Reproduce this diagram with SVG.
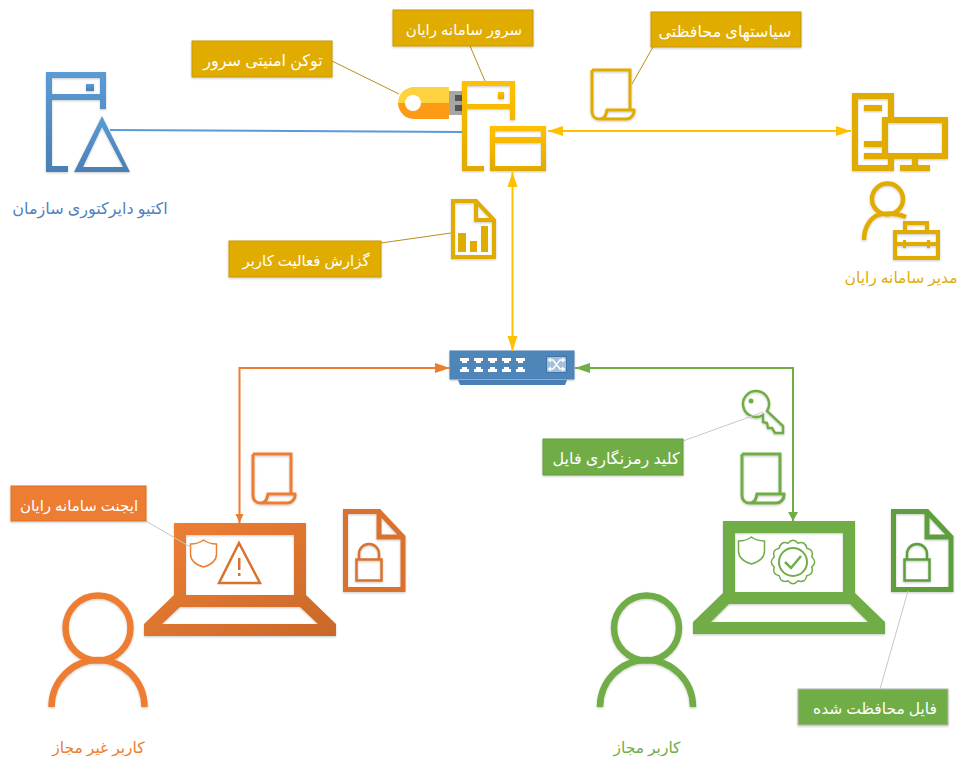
<svg xmlns="http://www.w3.org/2000/svg" width="958" height="762" viewBox="0 0 958 762">
<style>
.t{font-family:"Noto Sans","DejaVu Sans",sans-serif;direction:rtl;text-anchor:middle}
.lab{font-size:15px;fill:#fff}
.big{font-size:16px}
.cap{font-size:15.500px}
.box{stroke-width:1}
.gold{fill:#e0ac00;stroke:#c99a00}
.lead{fill:none;stroke-width:1}
.conn{fill:none;stroke-width:2}
</style>
<defs>
<filter id="s" x="-10%" y="-10%" width="120%" height="125%"><feDropShadow dx="0" dy="1" stdDeviation="1" flood-color="#000" flood-opacity="0.22"/></filter>
<linearGradient id="gb" x1="0" y1="0" x2="0" y2="1"><stop offset="0" stop-color="#5b9bd5"/><stop offset="1" stop-color="#4a7fb5"/></linearGradient>
<linearGradient id="go" x1="0" y1="0" x2="1" y2="1"><stop offset="0" stop-color="#f08033"/><stop offset="1" stop-color="#c9682a"/></linearGradient>
<linearGradient id="gy" x1="0" y1="0" x2="0" y2="1"><stop offset="0" stop-color="#ffc000"/><stop offset="1" stop-color="#dfab00"/></linearGradient>
<marker id="ay" markerUnits="userSpaceOnUse" markerWidth="16" markerHeight="12" refX="15" refY="6" orient="auto-start-reverse"><path d="M0 1L15 6L0 11Z" fill="#ffc000"/></marker>
<marker id="ao" markerUnits="userSpaceOnUse" markerWidth="16" markerHeight="12" refX="15" refY="6" orient="auto-start-reverse"><path d="M0 1L15 6L0 11Z" fill="#ed7d31"/></marker>
<marker id="ag" markerUnits="userSpaceOnUse" markerWidth="16" markerHeight="12" refX="15" refY="6" orient="auto-start-reverse"><path d="M0 1L15 6L0 11Z" fill="#70ad47"/></marker>
<marker id="ao2" markerUnits="userSpaceOnUse" markerWidth="10" markerHeight="10" refX="9" refY="5" orient="auto"><path d="M0 1L9 5L0 9Z" fill="#ed7d31"/></marker>
<marker id="ag2" markerUnits="userSpaceOnUse" markerWidth="10" markerHeight="12" refX="9" refY="6" orient="auto"><path d="M0 1L9 6L0 11Z" fill="#70ad47"/></marker>
<g id="doc"><path d="M2 2H40V42M2 2V44A7 7 0 0 0 9 51H36A8 8 0 0 0 44 42H17L16 46A7 7 0 0 1 9 51" fill="none" stroke-width="3"/></g>
<g id="lockfile"><path d="M2.500 2.500H36L60 28V80.500H2.500Z M36 2.500V28H60" fill="none" stroke-width="5"/><rect x="13.500" y="50.500" width="25" height="21" fill="none" stroke-width="2.500"/><path d="M16 50V45A10 10 0 0 1 36 45V50" fill="none" stroke-width="2.500"/></g>
<g id="shield"><path d="M13 1C17 4 22 5 26 5V15C26 22 20 26 13 28C6 26 0 22 0 15V5C4 5 9 4 13 1Z" fill="none" stroke-width="1.500"/></g>
</defs>

<g id="active-directory">
<g filter="url(#s)" fill="url(#gb)">
<path fill-rule="evenodd" d="M46 72H106V109H100V100H52V166H68V172H46Z M52 78V94H100V78Z"/>
<rect x="86" y="84" width="8" height="7"/>
<path fill-rule="evenodd" d="M102 116L130 172H74Z M102 127L83 167H123Z"/>
</g>
<text class="t big" x="90" y="214" fill="#4f81bd">اکتیو دایرکتوری سازمان</text>
</g>

<g id="usb-token">
<rect x="449" y="91" width="14" height="24" fill="#a6a6a6"/>
<rect x="455" y="95" width="7" height="6" fill="#555"/><rect x="455" y="105" width="7" height="6" fill="#555"/>
<path d="M449 87H415A16 16 0 0 0 398 103H449Z" fill="#ffd23f"/>
<path d="M449 103H398A16 16 0 0 0 415 119H449Z" fill="#ff9a17"/>
<circle cx="413" cy="103" r="8" fill="#fff"/>
</g>

<g id="server">
<g filter="url(#s)" fill="url(#gy)">
<path fill-rule="evenodd" d="M462 81H515V120H510V109H467V166H484V171H462Z M467 86V104H510V86Z"/>
<rect x="498" y="92" width="6" height="7"/>
<path fill-rule="evenodd" d="M490 126H546V171H490Z M495 131V137H541V131Z M495 143V166H541V143Z"/>
</g>
</g>

<g id="policy-doc"><use href="#doc" x="590" y="68" stroke="#e0ac00" filter="url(#s)"/></g>

<g id="admin">
<g filter="url(#s)">
<path fill-rule="evenodd" fill="#e0ac00" d="M852 93H894V117H888V99H858V165H888V159H894V171H852Z"/>
<rect x="864" y="105" width="18" height="6" fill="#e0ac00"/>
<rect x="864" y="141" width="18" height="6" fill="#e0ac00"/>
<path fill-rule="evenodd" fill="#e0ac00" d="M882 117H948V159H864V153H882Z M888 123V153H942V123Z"/>
<rect x="912" y="159" width="6" height="7" fill="#e0ac00"/>
<rect x="900" y="165" width="30" height="6" fill="#e0ac00"/>
<circle cx="887.500" cy="199" r="15.500" fill="none" stroke="#e0ac00" stroke-width="4.500"/>
<path d="M864 240C864 226 872 215 882 214C891 213 899 214 906 217" fill="none" stroke="#e0ac00" stroke-width="4.500"/>
<g fill="none" stroke="#e0ac00" stroke-width="4"><rect x="895" y="232" width="43" height="26"/><path d="M905 232V223H927V232M895 244H938"/></g>
<path d="M903 240h3v8h-3zM927 240h3v8h-3z" fill="#e0ac00"/>
</g>
<text class="t cap" x="901" y="283" fill="#e0ac00">مدیر سامانه رایان</text>
</g>

<g id="report">
<g filter="url(#s)" fill="none" stroke="#e0ac00" stroke-width="4"><path d="M453 201H476L494 220V257H453Z M476 201V220H494"/></g>
<path d="M458 233h8v19h-8zM470 241h7v11h-7zM481 226h7v26h-7z" fill="#e0ac00"/>
</g>

<g id="switch">
<rect x="450" y="351" width="124" height="28" fill="#4f86b9" stroke="#4a7fb5" filter="url(#s)"/>
<path d="M458 380H567L565 385H460Z" fill="#4a7fb5"/>
<g fill="#fff"><path d="M460 358h9v3h-2v2h-5v-2h-2zM474 358h9v3h-2v2h-5v-2h-2zM488 358h9v3h-2v2h-5v-2h-2zM502 358h9v3h-2v2h-5v-2h-2zM516 358h9v3h-2v2h-5v-2h-2z"/>
<path d="M460 372h9v-3h-2v-2h-5v2h-2zM474 372h9v-3h-2v-2h-5v2h-2zM488 372h9v-3h-2v-2h-5v2h-2zM502 372h9v-3h-2v-2h-5v2h-2zM516 372h9v-3h-2v-2h-5v2h-2z"/></g>
<rect x="546.500" y="356.500" width="20" height="16" fill="#a3bfdc" stroke="#3f74a8"/>
<path d="M550 360H553L560 369H563M550 369H553L560 360H563" fill="none" stroke="#fff" stroke-width="1.500"/>
<path d="M562 357.500L565.500 360L562 362.500ZM562 366.500L565.500 369L562 371.500ZM551 357.500L547.500 360L551 362.500ZM551 366.500L547.500 369L551 371.500Z" fill="#fff"/>
</g>

<g id="key">
<g filter="url(#s)" fill="none" stroke="#70ad47" stroke-width="2.500">
<path d="M767 411L783 426V433H775L772 428L768 428L767 423L763 422L763 415A13 13 0 1 1 767 411Z"/>
</g>
<circle cx="751" cy="401" r="2.500" fill="#70ad47"/>
</g>

<g id="green-doc"><use href="#doc" x="740" y="452" stroke="#70ad47" filter="url(#s)"/></g>
<g id="orange-doc"><use href="#doc" x="251" y="452" stroke="#ed7d31" filter="url(#s)"/></g>

<g id="orange-laptop">
<g filter="url(#s)">
<path fill-rule="evenodd" fill="url(#go)" d="M174 523H306V595L336 624V636H144V624L174 595Z M186 535V595H294V535Z M180 607L162 624H318L300 607Z"/>
</g>
<use href="#shield" x="190.500" y="539" stroke="#ed7d31"/>
<path d="M239 543L260 583H219Z" fill="none" stroke="#d9722e" stroke-width="2.500"/>
<rect x="238" y="558" width="2.500" height="12" fill="#d9722e"/><rect x="238" y="573" width="2.500" height="3" fill="#d9722e"/>
</g>

<g id="orange-lockfile"><use href="#lockfile" x="343" y="509" stroke="#d9722e" filter="url(#s)"/></g>

<g id="green-laptop">
<g filter="url(#s)">
<path fill-rule="evenodd" fill="#70ad47" d="M723 521H855V593L885 622V634H693V622L723 593Z M735 533V592H843V533Z M729 604L711 622H868L850 604Z"/>
</g>
<use href="#shield" x="738.500" y="536" stroke="#70ad47"/>
<g fill="none" stroke="#70ad47">
<path stroke-width="1.500" d="M811.800 567.050Q814.200 574.250 806.800 575.800Q805.250 583.200 798.050 580.800Q793 586.500 787.950 580.800Q780.750 583.200 779.200 575.800Q771.800 574.250 774.200 567.050Q768.500 562 774.200 556.950Q771.800 549.750 779.200 548.200Q780.750 540.800 787.950 543.200Q793 537.500 798.050 543.200Q805.250 540.800 806.800 548.200Q814.200 549.750 811.800 556.950Q817.500 562 811.800 567.050Z"/>
<circle cx="793" cy="562" r="14" stroke-width="2"/>
<path d="M785 562L791 568L801 556" stroke-width="2.500"/>
</g>
</g>

<g id="green-lockfile"><use href="#lockfile" x="891" y="509" stroke="#5f9e3c" filter="url(#s)"/></g>

<g id="orange-user">
<g fill="none" stroke="#ed7d31" stroke-width="6.500" filter="url(#s)">
<circle cx="98" cy="628" r="32.500"/>
<path d="M51.500 707A46.500 47 0 0 1 144.500 707"/>
</g>
<text class="t cap" x="98.500" y="753" fill="#ed7d31">کاربر غیر مجاز</text>
</g>

<g id="green-user">
<g fill="none" stroke="#70ad47" stroke-width="6.500" filter="url(#s)">
<circle cx="646.500" cy="628" r="32.500"/>
<path d="M600 707A46.500 47 0 0 1 693 707"/>
</g>
<text class="t cap" x="647" y="753" fill="#70ad47">کاربر مجاز</text>
</g>

<g id="connectors">
<path class="conn" d="M110 130L462 132" stroke="#5b9bd5"/>
<path class="conn" d="M548 131H851" stroke="#ffc000" marker-start="url(#ay)" marker-end="url(#ay)"/>
<path class="conn" d="M512.500 172V351" stroke="#ffc000" marker-start="url(#ay)" marker-end="url(#ay)"/>
<path class="conn" d="M450 368H239.500V523" stroke="#ed7d31" marker-start="url(#ao)" marker-end="url(#ao2)"/>
<path class="conn" d="M575 368H793V521" stroke="#70ad47" marker-start="url(#ag)" marker-end="url(#ag2)"/>
<path class="lead" d="M470 46L485 81" stroke="#b8901a"/>
<path class="lead" d="M332 61L399 94" stroke="#b8901a"/>
<path class="lead" d="M632 84L653 47" stroke="#b8901a"/>
<path class="lead" d="M381 243L451 233" stroke="#b8901a"/>
<path class="lead" d="M146 521L192 548" stroke="#c8c8c8"/>
<path class="lead" d="M683 441L763 412" stroke="#c8c8c8"/>
<path class="lead" d="M908 591L880 689" stroke="#c8c8c8"/>
</g>

<g id="label-server"><rect class="box gold" x="393" y="10" width="140" height="36" filter="url(#s)"/><text class="t lab" x="464" y="35">سرور سامانه رایان</text></g>
<g id="label-token"><rect class="box gold" x="192" y="41" width="140" height="36" filter="url(#s)"/><text class="t lab big" x="263" y="66">توکن امنیتی سرور</text></g>
<g id="label-policy"><rect class="box gold" x="651" y="12" width="150" height="35" filter="url(#s)"/><text class="t lab big" x="725" y="37">سیاستهای محافظتی</text></g>
<g id="label-report"><rect class="box gold" x="229" y="241" width="152" height="36" filter="url(#s)"/><text class="t lab" x="306" y="266">گزارش فعالیت کاربر</text></g>
<g id="label-agent"><rect x="11" y="486" width="135" height="35" fill="#ed7d31" stroke="#d9722e" filter="url(#s)"/><text class="t lab" x="79" y="511">ایجنت سامانه رایان</text></g>
<g id="label-key"><rect x="543" y="439" width="140" height="36" fill="#70ad47" stroke="#659c40" filter="url(#s)"/><text class="t lab big" x="616" y="464">کلید رمزنگاری فایل</text></g>
<g id="label-file"><rect x="798" y="689" width="150" height="36" fill="#70ad47" stroke="#b5b5b5" filter="url(#s)"/><text class="t lab cap" x="875" y="714">فایل محافظت شده</text></g>
</svg>
